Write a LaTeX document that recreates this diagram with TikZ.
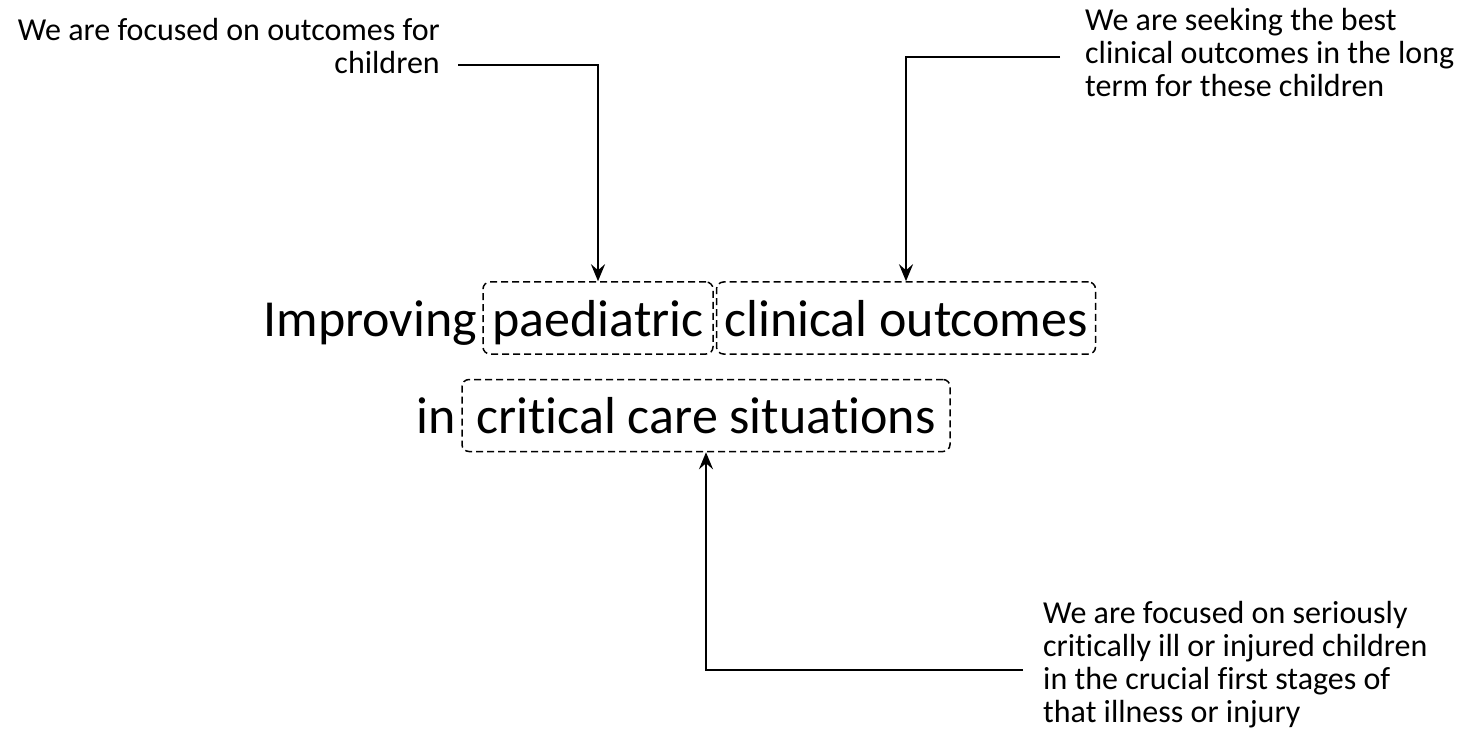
\documentclass[tikz,border=0pt]{standalone}
\usepackage{fontspec}
\setmainfont{Carlito}[Ligatures=NoCommon]
\usetikzlibrary{arrows.meta, positioning}

\begin{document}
\begin{tikzpicture}[x=1pt, y=-1pt,
		note/.style={font=\fontsize{32}{33}\selectfont, inner sep=0pt},
		bigword/.style={font=\fontsize{52}{62}\selectfont, inner xsep=0pt, inner ysep=12pt, text height=42pt, text depth=6pt},
		wordbox/.style={bigword, draw, dash pattern=on 7pt off 4pt, line width=1.5pt, rounded corners=7pt},
		pointer/.style={line width=2.6pt, -{Stealth[length=17pt, width=14pt, inset=6pt]}}]
	\useasboundingbox (0,0) rectangle (1468,746);
	
	% first line
	\node[wordbox, minimum width=230pt] (paed) at (598,318) {paediatric};
	\node[wordbox, minimum width=379pt, right=2pt of paed] (clin) {clinical outcomes};
	\node[bigword, left=5pt of paed] (impr) {Improving};
	
	% second line
	\node[wordbox, minimum width=488pt] (crit) at (706,415.5) {critical care situations};
	\node[bigword, left=5pt of crit] (in) {in};
	
	% remarks
	\node[note, align=right, anchor=north east] (remA) at (440,18) {We are focused on outcomes for\\children};
	\node[note, align=left, anchor=north west] (remB) at (1085,8) {We are seeking the best\\clinical outcomes in the long\\term for these children};
	\node[note, align=left, anchor=north west] (remC) at (1043,601) {We are focused on seriously\\critically ill or injured children\\in the crucial first stages of\\that illness or injury};
	
	\coordinate (remAend) at (458,65);
	\coordinate (remBend) at (1060,57);
	\coordinate (remCend) at (1023,670);
	
	\draw[pointer] (remAend) -| (paed.north);
	\draw[pointer] (remBend) -| (clin.north);
	\draw[pointer] (remCend) -| (crit.south);
\end{tikzpicture}
\end{document}
